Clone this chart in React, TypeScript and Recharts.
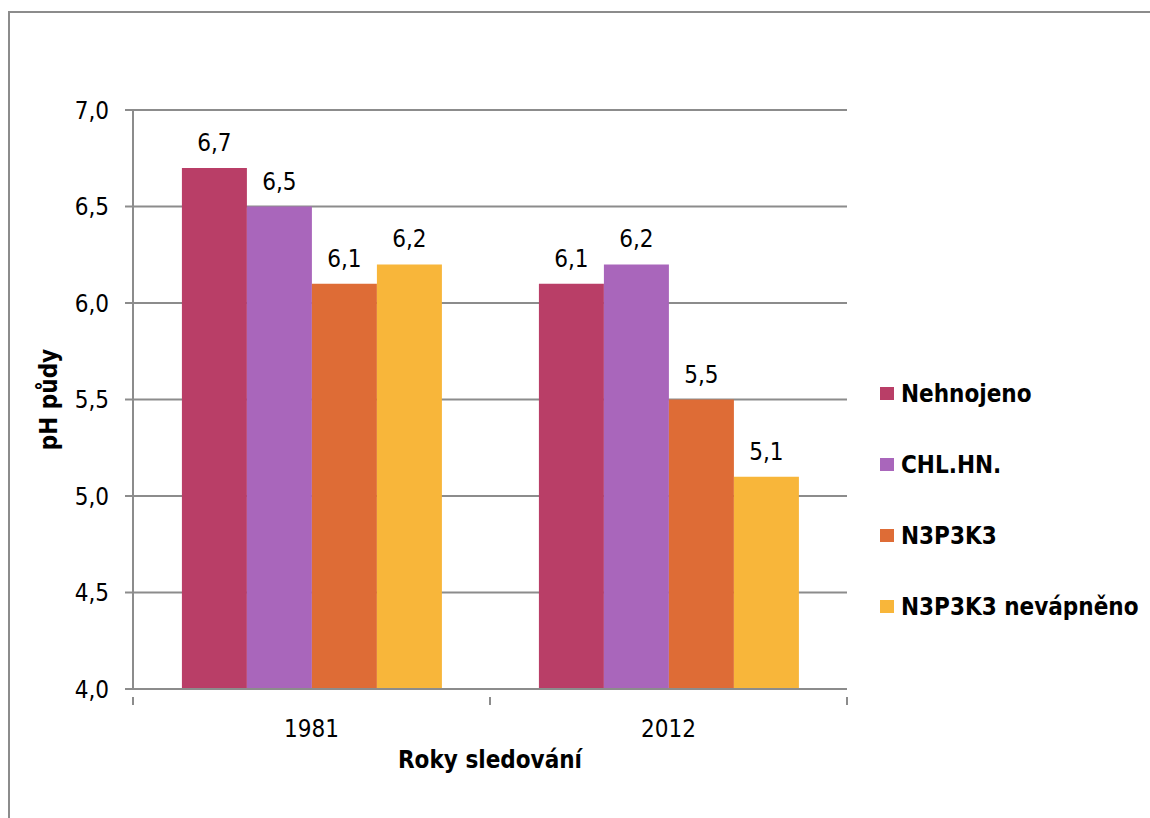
import { Bar, BarChart, CartesianGrid, LabelList, Legend, XAxis, YAxis } from "recharts";

const categories = ["1981", "2012"];
const nehnojeno = [6.7, 6.1];
const chlHn = [6.5, 6.2];
const n3p3k3 = [6.1, 5.5];
const n3p3k3Nevapneno = [6.2, 5.1];
const yTicks = [4.0, 4.5, 5.0, 5.5, 6.0, 6.5, 7.0];

const series = [
  { key: "nehnojeno", name: "Nehnojeno", color: "#B93E67", values: nehnojeno },
  { key: "chlHn", name: "CHL.HN.", color: "#A966BB", values: chlHn },
  { key: "n3p3k3", name: "N3P3K3", color: "#DE6C36", values: n3p3k3 },
  { key: "n3p3k3Nev", name: "N3P3K3 nevápněno", color: "#F8B63A", values: n3p3k3Nevapneno },
];

const rows = categories.map((year, i) => {
  const row: Record<string, string | number> = { year };
  series.forEach((s) => {
    row[s.key] = s.values[i];
  });
  return row;
});

const FONT = "'DejaVu Sans Condensed', 'DejaVu Sans', sans-serif";
const GRID = "#8c8c8c";
const W = 1150;
const H = 818;
const margin = { top: 110, right: 33, bottom: 69, left: 13 };
const LEGEND_W = 270;
const plotWidth = W - margin.left - 120 - margin.right - LEGEND_W;
const band = plotWidth / categories.length;

const comma = (v: number) => Number(v).toFixed(1).replace(".", ",");

// Category ticks sit on the band edges, the year label in the middle
function YearTick(props: any) {
  const { x, y, payload, index } = props;
  const left = x - band / 2;
  const right = x + band / 2;
  return (
    <g>
      <line x1={left} y1={y} x2={left} y2={y + 8} stroke={GRID} strokeWidth={2} />
      {index === categories.length - 1 && (
        <line x1={right} y1={y} x2={right} y2={y + 8} stroke={GRID} strokeWidth={2} />
      )}
      <text x={x} y={y + 23} dy="0.71em" textAnchor="middle" fill="#000" fontSize={24} fontFamily={FONT}>
        {payload.value}
      </text>
    </g>
  );
}

function LegendBox() {
  return (
    <div style={{ display: "flex", flexDirection: "column", fontFamily: FONT }}>
      {series.map((s) => (
        <div key={s.key} style={{ height: 71, display: "flex", alignItems: "center" }}>
          <span style={{ width: 14, height: 13, background: s.color, marginRight: 7, display: "inline-block" }} />
          <span style={{ fontSize: 24, fontWeight: "bold", color: "#000", whiteSpace: "nowrap" }}>{s.name}</span>
        </div>
      ))}
    </div>
  );
}

export default function App() {
  return (
    <div style={{ position: "absolute", left: 0, top: 0, width: W, height: H, background: "#fff", overflow: "hidden", fontFamily: FONT }}>
      <div
        style={{
          position: "absolute",
          left: 8,
          top: 11,
          width: W,
          height: H,
          borderLeft: `2px solid ${GRID}`,
          borderTop: `2px solid ${GRID}`,
        }}
      />
      <div style={{ position: "absolute", left: 0, top: 0 }}>
        <BarChart width={W} height={H} data={rows} margin={margin} barCategoryGap="13.7%" barGap={0}>
          <CartesianGrid vertical={false} stroke={GRID} strokeWidth={2} />
          <XAxis
            dataKey="year"
            height={60}
            axisLine={{ stroke: GRID, strokeWidth: 2 }}
            tickLine={false}
            tick={<YearTick />}
            interval={0}
            label={{
              value: "Roky sledování",
              position: "bottom",
              offset: 2,
              fill: "#000",
              fontSize: 24,
              fontWeight: "bold",
              fontFamily: FONT,
            }}
          />
          <YAxis
            width={120}
            domain={[4, 7]}
            ticks={yTicks}
            tickFormatter={comma}
            axisLine={{ stroke: GRID, strokeWidth: 2 }}
            tickLine={{ stroke: GRID, strokeWidth: 2 }}
            tickSize={8}
            tickMargin={16}
            tick={{ fill: "#000", fontSize: 24, fontFamily: FONT }}
            label={{
              content: (p: any) => {
                const vb = p.viewBox;
                const cx = vb.x + 44;
                const cy = vb.y + vb.height / 2;
                return (
                  <text
                    x={cx}
                    y={cy}
                    transform={`rotate(-90, ${cx}, ${cy})`}
                    textAnchor="middle"
                    fill="#000"
                    fontSize={24}
                    fontWeight="bold"
                    fontFamily={FONT}
                  >
                    pH půdy
                  </text>
                );
              },
            }}
          />
          <Legend
            layout="vertical"
            align="right"
            verticalAlign="middle"
            content={<LegendBox />}
            wrapperStyle={{ left: 880, top: 358, width: LEGEND_W }}
          />
          {series.map((s) => (
            <Bar key={s.key} dataKey={s.key} name={s.name} fill={s.color} isAnimationActive={false}>
              <LabelList
                dataKey={s.key}
                position="top"
                offset={17}
                formatter={comma}
                fill="#000"
                fontSize={24}
                fontFamily={FONT}
              />
            </Bar>
          ))}
        </BarChart>
      </div>
    </div>
  );
}
